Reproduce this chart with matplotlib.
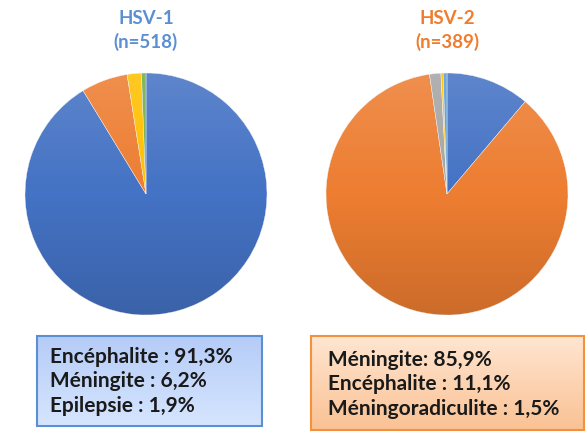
import numpy as np
import matplotlib.pyplot as plt
from matplotlib.patches import Circle, Rectangle

# data
hsv1_labels = ["Encéphalite", "Méningite", "Epilepsie", "Autre"]
hsv1_values = [91.3, 6.2, 1.9, 0.6]
hsv1_colors = ["#4472C4", "#ED7D31", "#FFC000", "#70AD47"]

hsv2_labels = ["Encéphalite", "Méningite", "Méningoradiculite", "Autre 1", "Autre 2"]
hsv2_values = [11.1, 85.9, 1.5, 0.3, 0.5]
hsv2_colors = ["#4472C4", "#ED7D31", "#A5A5A5", "#FFC000", "#5B9BD5"]

hsv1_box = ["Encéphalite : 91,3%", "Méningite : 6,2%", "Epilepsie : 1,9%"]
hsv2_box = ["Méningite: 85,9%", "Encéphalite : 11,1%", "Méningoradiculite : 1,5%"]

W, H = 587, 435
fig = plt.figure(figsize=(W / 100, H / 100), dpi=100)
fig.patch.set_facecolor("white")
plt.rcParams['font.family'] = ['Lato', 'DejaVu Sans']


def draw_pie(cx, cy, r, values, colors):
    ax = fig.add_axes([(cx - r) / W, (H - cy - r) / H, 2 * r / W, 2 * r / H])
    wedges, _ = ax.pie(values, colors=colors, startangle=90, counterclock=False,
                       radius=1, wedgeprops=dict(linewidth=0.3, edgecolor="#f4f4f4"))
    # soft shading, light at top, darker at bottom
    grad = np.linspace(0, 1, 256).reshape(-1, 1)
    rgba = np.zeros((256, 1, 4))
    rgba[..., :3] = np.where(grad[..., None] < 0.5, 1.0, 0.0)
    rgba[..., 3] = (np.abs(grad - 0.5) * 0.28)
    im = ax.imshow(rgba, extent=[-1, 1, -1, 1], origin="upper", aspect="auto", zorder=5)
    clip = Circle((0, 0), 1, transform=ax.transData)
    im.set_clip_path(clip)
    ax.set_xlim(-1, 1)
    ax.set_ylim(-1, 1)
    ax.set_aspect("equal")
    ax.axis("off")


draw_pie(146, 195, 121, hsv1_values, hsv1_colors)
draw_pie(447, 195, 121, hsv2_values, hsv2_colors)

# overlay in pixel coordinates
ov = fig.add_axes([0, 0, 1, 1], zorder=10)
ov.set_xlim(0, W)
ov.set_ylim(H, 0)
ov.axis("off")
ov.patch.set_alpha(0)

ov.text(146, 19, "HSV-1", color="#5B8FD3", fontsize=13.5, fontweight="bold", ha="center", va="center")
ov.text(146, 42, "(n=518)", color="#5B8FD3", fontsize=13.5, fontweight="bold", ha="center", va="center")
ov.text(447, 19, "HSV-2", color="#F07C2C", fontsize=13.5, fontweight="bold", ha="center", va="center")
ov.text(447, 42, "(n=389)", color="#F07C2C", fontsize=13.5, fontweight="bold", ha="center", va="center")


def grad_box(x0, y0, x1, y1, c_top, c_bot, edge):
    t = np.linspace(0, 1, 100).reshape(-1, 1, 1)
    a = np.array(c_top).reshape(1, 1, 3)
    b = np.array(c_bot).reshape(1, 1, 3)
    img = a * (1 - t) + b * t
    ov.imshow(np.repeat(img, 2, axis=1), extent=[x0, x1, y1, y0], aspect="auto", zorder=1)
    ov.add_patch(Rectangle((x0, y0), x1 - x0, y1 - y0, fill=False, edgecolor=edge, linewidth=1.5, zorder=2))


grad_box(37, 337, 262, 427, (0.71, 0.80, 0.97), (0.84, 0.90, 1.0), "#5B8FD3")
grad_box(311, 337, 584, 431, (1.0, 0.90, 0.82), (0.98, 0.76, 0.58), "#F4913D")

ov.set_xlim(0, W)
ov.set_ylim(H, 0)

for i, s in enumerate(hsv1_box):
    ov.text(50, 357 + i * 24.5, s, fontsize=15, fontweight="bold", color="#1a1a1a", va="center", ha="left", zorder=3)
for i, s in enumerate(hsv2_box):
    ov.text(328, 360 + i * 24.5, s, fontsize=15, fontweight="bold", color="#1a1a1a", va="center", ha="left", zorder=3)

fig.savefig("out.png", dpi=100)
